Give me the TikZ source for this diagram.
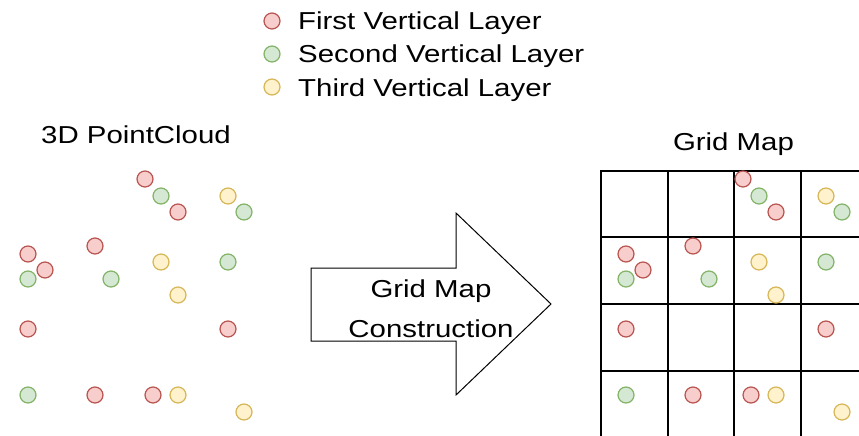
\documentclass[tikz,border=0pt]{standalone}
\usepackage{fontspec}
\setmainfont{Liberation Sans}[FakeStretch=1.2]
\usepackage{tikz}
\usetikzlibrary{positioning}
\definecolor{redfill}{HTML}{F8CECC}
\definecolor{redline}{HTML}{B85450}
\definecolor{greenfill}{HTML}{D5E8D4}
\definecolor{greenline}{HTML}{82B366}
\definecolor{yellowfill}{HTML}{FFF2CC}
\definecolor{yellowline}{HTML}{D6B656}
\tikzstyle{pt} = [circle, minimum size=16pt, inner sep=0pt, line width=1.2pt]
\tikzstyle{ptred} = [pt, draw=redline, fill=redfill]
\tikzstyle{ptgreen} = [pt, draw=greenline, fill=greenfill]
\tikzstyle{ptyellow} = [pt, draw=yellowline, fill=yellowfill]
\tikzstyle{label} = [inner sep=0pt, font=\fontsize{24.5}{29}\selectfont]
\tikzstyle{gridline} = [line width=2pt]
\newcommand{\drawcloud}[1]{%
    \foreach \x/\y [count=\n] in {161/196, 244/212, 28/279, 111/279, 228/262, 28/395}
        \node[ptgreen] (#1g\n) at (\x,\y) {};
    \foreach \x/\y [count=\n] in {228/196, 161/262, 178/295, 178/395, 244/412}
        \node[ptyellow] (#1y\n) at (\x,\y) {};
    \foreach \x/\y [count=\n] in {145/179, 178/212, 28/254, 45/270, 95/246, 28/329, 228/329, 95/395, 153/395}
        \node[ptred] (#1r\n) at (\x,\y) {};
}

\begin{document}
\begin{tikzpicture}[x=1pt, y=-1pt]
    \useasboundingbox (0,0) rectangle (859,436);
    \node[ptred] (legr) at (272,21) {};
    \node[ptgreen] (legg) at (272,54) {};
    \node[ptyellow] (legy) at (272,87) {};
    \node[label, anchor=base west] (legrt) at (298,30) {First Vertical Layer};
    \node[label, anchor=base west] (leggt) at (298,63) {Second Vertical Layer};
    \node[label, anchor=base west] (legyt) at (298,96) {Third Vertical Layer};
    \node[label, anchor=base] (cloudtitle) at (136,143) {3D PointCloud};
    \node[label, anchor=base] (gridtitle) at (733.5,150) {Grid Map};
    \drawcloud{pc}
    \draw[line width=1pt] (311,268) -- (456,268) -- (456,213) -- (551,304) -- (456,395) -- (456,341) -- (311,341) -- cycle;
    \node[label, anchor=base] (arrowtop) at (431,297) {Grid Map};
    \node[label, anchor=base] (arrowbot) at (431,337) {Construction};
    \foreach \v in {601, 668, 734, 801, 868}
        \draw[gridline] (\v,170) -- (\v,440);
    \foreach \h in {171, 237, 304, 371, 438}
        \draw[gridline] (600,\h) -- (870,\h);
    \begin{scope}[xshift=598pt]
        \drawcloud{gm}
    \end{scope}
\end{tikzpicture}
\end{document}
